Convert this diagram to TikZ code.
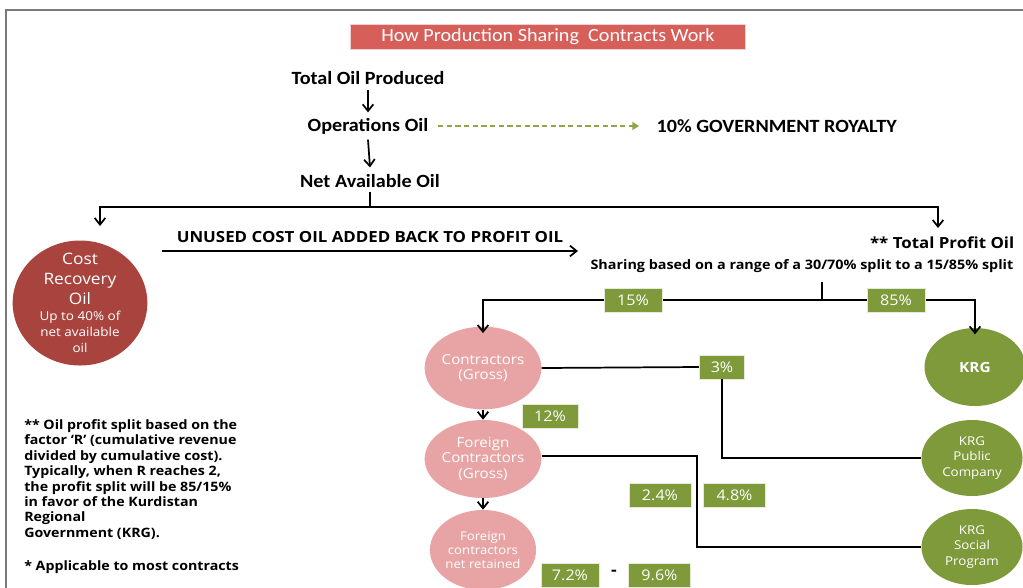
\documentclass[tikz,border=0pt]{standalone}
\usepackage{fontspec}
\setmainfont[FakeStretch=1.08]{Carlito}
\newfontfamily\osf[FakeStretch=1.1]{Open Sans}
\usetikzlibrary{arrows.meta,shapes.geometric,calc}
\definecolor{titlered}{HTML}{D65F5A}
\definecolor{costred}{HTML}{A8443D}
\definecolor{pinkc}{HTML}{E8A4A4}
\definecolor{greenc}{HTML}{7E9A3B}
\definecolor{dashg}{HTML}{8DA646}
\definecolor{framegray}{HTML}{7A7A7A}
\begin{document}
\begin{tikzpicture}[x=0.75pt,y=-0.75pt,
  flow/.style={font=\fontsize{14}{16}\selectfont\bfseries, inner sep=1pt},
  conn/.style={draw=black, line width=1.3pt},
  arr/.style={conn, -{Straight Barb[length=5pt,width=8pt,line width=1.3pt]}},
  pct/.style={fill=greenc, draw=white!80!greenc, line width=0.6pt, text=white,
    font=\osf\fontsize{11}{12}\selectfont, minimum height=18pt, inner sep=0pt},
  oval/.style={ellipse, inner sep=0pt, text=white, align=center},
  pinko/.style={oval, fill=pinkc, minimum width=75.75pt, font=\osf\fontsize{10.3}{11.3}\selectfont},
  greeno/.style={oval, fill=greenc, minimum width=75.75pt, minimum height=57pt, font=\osf\fontsize{9.1}{11.3}\selectfont}
]
\useasboundingbox (0,0) rectangle (1023,587);
% frame
\draw[framegray, line width=1.5pt] (6,590) -- (6,10) -- (1025,10);

% title
\node[fill=titlered, draw=white!70!titlered, text=white, minimum width=296pt, minimum height=19pt,
  inner sep=0pt, font=\fontsize{14}{16}\selectfont] (title) at (548,37) {How Production Sharing\ \ Contracts Work};

% top flow
\node[flow] (top) at (368,78) {Total Oil Produced};
\node[flow] (ops) at (368,126) {Operations Oil};
\node[flow, anchor=west] (roy) at (655,126) {10\% GOVERNMENT ROYALTY};
\node[flow] (net) at (370,181) {Net Available Oil};
\draw[arr] ([yshift=-3pt]top.south) -- ([yshift=3pt]ops.north);
\draw[arr] ([yshift=-3pt]ops.south) -- ([yshift=4pt]net.north);
\draw[dashg, line width=1.3pt, dash pattern=on 4pt off 2.5pt,
  -{Triangle[length=5pt,width=6pt]}] ([xshift=6pt]ops.east) -- ([xshift=-12pt]roy.west);

% split to cost recovery and profit oil
\coordinate (j1) at (370,207);
\coordinate (ca) at (100,226);
\coordinate (pa) at (938,228);
\draw[conn] ([yshift=-2pt]net.south) -- (j1);
\draw[arr] (j1) -| (ca);
\draw[arr] (j1) -| (pa);

% cost recovery
\node[oval, fill=costred, minimum width=101pt, minimum height=93.75pt] (cost) at (80,303) {};
\node[text=white, align=center, font=\osf\fontsize{11.8}{15}\selectfont] (costt) at (80,279) {Cost\\Recovery\\Oil};
\node[text=white, align=center, font=\osf\fontsize{9.2}{12}\selectfont] (costs) at (80,332) {Up to 40\% of\\net available\\oil};

% unused cost oil
\node[font=\osf\bfseries\fontsize{11.5}{12}\selectfont] (unused) at (370,237) {UNUSED COST OIL ADDED BACK TO PROFIT OIL};
\coordinate (u1) at (162,251);
\coordinate (u2) at (578,251);
\draw[arr] (u1) -- (u2);

% total profit oil
\node[anchor=east, font=\osf\bfseries\fontsize{11.5}{12}\selectfont] (tpo) at (1019,243) {** Total Profit Oil};
\node[anchor=east, font=\osf\bfseries\fontsize{9.8}{10}\selectfont] (share) at (1018,266) {Sharing based on a range of a 30/70\% split to a 15/85\% split};

% split contractors / KRG
\coordinate (j2) at (822,282);
\coordinate (j3) at (822,300);
\node[pinko, minimum height=62pt] (cg) at (483,368) {Contractors\\(Gross)};
\node[greeno, minimum height=58.5pt, font=\osf\bfseries\fontsize{10.5}{12}\selectfont] (krg) at (975,367) {KRG};
\draw[conn] (j2) -- (j3);
\draw[arr] (j3) -| ([yshift=-5pt]cg.north);
\draw[arr] (j3) -| ([yshift=-5pt]krg.north);
\node[pct, minimum width=43.5pt] (p15) at (633,300) {15\%};
\node[pct, minimum width=43.5pt] (p85) at (896,300) {85\%};

% contractors chain
\node[pinko, minimum height=58.5pt] (fc) at (483,459) {Foreign\\Contractors\\(Gross)};
\node[pinko, minimum height=60pt, font=\osf\fontsize{9}{10.5}\selectfont] (nr) at (483,550) {Foreign\\contractors\\net retained};
\draw[arr] (cg.south) -- (fc.north);
\draw[arr] (fc.south) -- (nr.north);
\node[pct, minimum width=42pt] (p12) at (550,416) {12\%};

% KRG entities
\node[greeno] (pub) at (972,458) {KRG\\Public\\Company};
\node[greeno] (soc) at (972,547) {KRG\\Social\\Program};

% 3% path
\node[pct, minimum width=34pt] (p3) at (722,367) {3\%};
\draw[conn] (cg.east) -- (p3.west);
\draw[conn] (p3.south) |- (pub.west);

% foreign contractors path
\coordinate (k1) at (697,456);
\draw[conn] (fc.east |- k1) -- (k1) |- (soc.west);
\node[pct, minimum width=46.5pt] (p24) at (660,495) {2.4\%};
\node[pct, minimum width=47pt] (p48) at (734.5,495) {4.8\%};

% retained range
\node[pct, minimum width=43.5pt] (p72) at (570,575.5) {7.2\%};
\node[font=\osf\bfseries\fontsize{12}{12}\selectfont] (dash) at (614,573) {-};
\node[pct, minimum width=47pt] (p96) at (659.5,575.5) {9.6\%};

% footnotes
\node[anchor=north west, align=left, inner sep=0pt, font=\osf\bfseries\fontsize{9.7}{11.6}\selectfont] (fn) at (24,419)
{** Oil profit split based on the\\factor ‘R’ (cumulative revenue\\divided by cumulative cost).\\Typically, when R reaches 2,\\the profit split will be 85/15\%\\in favor of the Kurdistan\\Regional\\Government (KRG).};
\node[anchor=west, inner sep=0pt, font=\osf\bfseries\fontsize{9.7}{10}\selectfont] (fn2) at (24,567) {* Applicable to most contracts};
\end{tikzpicture}
\end{document}
